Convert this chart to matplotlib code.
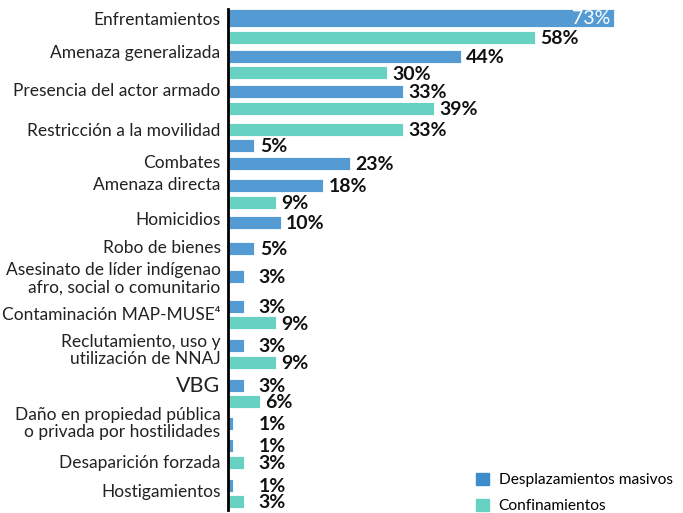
import matplotlib
matplotlib.use('Agg')
import matplotlib.pyplot as plt
import matplotlib.patches as mpatches
import numpy as np

plt.rcParams['font.family'] = ['Lato', 'DejaVu Sans']

# data
categorias = ['Enfrentamientos', 'Amenaza generalizada', 'Presencia del actor armado',
              'Restricción a la movilidad', 'Combates', 'Amenaza directa', 'Homicidios',
              'Robo de bienes', 'Asesinato de líder indígenao\nafro, social o comunitario',
              'Contaminación MAP-MUSE⁴', 'Reclutamiento, uso y\nutilización de NNAJ', 'VBG',
              'Daño en propiedad pública\no privada por hostilidades', 'Desaparición forzada',
              'Hostigamientos']
desplazamientos = [73, 44, 33, 5, 23, 18, 10, 5, 3, 3, 3, 3, 1, 1, 1]
confinamientos = [58, 30, 39, 33, None, 9, None, None, None, 9, 9, 6, None, 3, 3]
conf_primero = ['Restricción a la movilidad']

# layout (vertical units ~ pixels): spacing between groups, label anchoring
gaps = [19, 19, 21, 18, 22, 20, 26, 28, 30, 23, 23, 22, 22, 23]
label_pos = ['first', 'first', 'first', 'first', 'first', 'first', 'first', 'first',
             'mean', 'mean', 'mean', 'first', 'first', 'last', 'mean']
label_dy = [2, -3, -1, 2, 0, 0, -2, 0, 3, 1, -3, 1, 0, 1, -1]

c_desp = '#559bd3'
c_conf = '#67d1c2'
c_desp_leg = '#3d8ccb'

fig = plt.figure(figsize=(6.83, 5.13), dpi=100)
ax = fig.add_axes([228/683, 0, 455/683, 1])

step_in = 16.5
bh = 13

y = 18.0
label_y = []
bars = []
for i, cat in enumerate(categorias):
    items = [('d', desplazamientos[i])]
    if confinamientos[i] is not None:
        items.append(('c', confinamientos[i]))
    if cat in conf_primero:
        items = items[::-1]
    ys = []
    for k, (s, v) in enumerate(items):
        if k > 0:
            y += step_in if i > 0 else 19
        ys.append(y)
        bars.append((y, s, v))
    if label_pos[i] == 'first':
        ly = ys[0]
    elif label_pos[i] == 'last':
        ly = ys[-1]
    else:
        ly = np.mean(ys)
    label_y.append(ly + label_dy[i])
    if i < len(gaps):
        y += gaps[i]

for j, (yy, s, v) in enumerate(bars):
    col = c_desp if s == 'd' else c_conf
    h = 18 if j == 0 else bh
    ax.barh(yy, v, height=h, color=col, edgecolor='white', linewidth=0.6)
    if v >= 70:
        ax.text(v - 0.8, yy, '{}%'.format(v), color='white', fontsize=14,
                ha='right', va='center')
    else:
        xl = max(v + 1.0, 5.8)
        ax.text(xl, yy + 1.5, '{}%'.format(v), color='#111111', fontsize=14,
                fontweight='bold', ha='left', va='center')

for cat, ly in zip(categorias, label_y):
    fs = 15.5 if cat == 'VBG' else 12.5
    ax.text(-1.4, ly, cat, ha='right', va='center', fontsize=fs,
            color='#222222', linespacing=1.1)

ax.set_xlim(0, 86)
ax.set_ylim(513, 0)
for sp in ['top', 'right', 'bottom']:
    ax.spines[sp].set_visible(False)
ax.spines['left'].set_linewidth(2)
ax.spines['left'].set_bounds(9, 510)
ax.set_xticks([])
ax.set_yticks([])
ax.patch.set_alpha(0)

handles = [mpatches.Patch(color=c_desp_leg, label='Desplazamientos masivos'),
           mpatches.Patch(color=c_conf, label='Confinamientos')]
fig.legend(handles=handles, loc='lower left', bbox_to_anchor=(462/683, -0.028),
           frameon=False, fontsize=11.2, handlelength=0.85, handleheight=0.85,
           handletextpad=0.6, labelspacing=0.75)

fig.savefig('out.png', dpi=100)
